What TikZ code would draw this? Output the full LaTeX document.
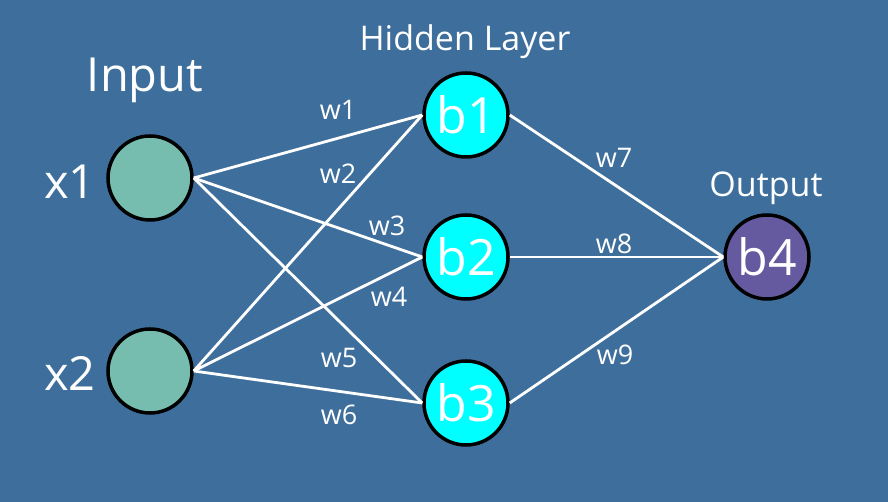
\documentclass[tikz,border=0pt]{standalone}
\usepackage{fontspec}
\setmainfont{Open Sans}
\definecolor{bg}{RGB}{62,111,156}
\definecolor{infill}{RGB}{118,189,176}
\definecolor{hidfill}{RGB}{0,255,255}
\definecolor{outfill}{RGB}{101,89,160}
\begin{document}
\begin{tikzpicture}[x=1pt,y=-1pt,
  neuron/.style={circle,draw=black,line width=3.5pt,minimum size=84pt,inner sep=0pt,font=\fontsize{50}{50}\selectfont,text=white},
  inp/.style={neuron,fill=infill},
  hid/.style={neuron,fill=hidfill},
  outn/.style={neuron,fill=outfill},
  conn/.style={draw=white,line width=2.8pt},
  wlab/.style={text=white,font=\fontsize{27}{27}\selectfont,inner sep=0pt},
  ttl/.style={text=white,inner sep=0pt}]
\fill[bg] (0,0) rectangle (888,502);
\useasboundingbox (0,0) rectangle (888,502);
\node[inp] (x1) at (150,178) {};
\node[inp] (x2) at (150,371) {};
\node[hid] (b1) at (466,115) {b1};
\node[hid] (b2) at (466,257) {b2};
\node[hid] (b3) at (466,403) {b3};
\node[outn] (b4) at (767,257) {b4};
\node[ttl,font=\fontsize{47}{47}\selectfont] (tin) at (145,80) {Input};
\node[ttl,font=\fontsize{47}{47}\selectfont] (lx1) at (70,182) {x1};
\node[ttl,font=\fontsize{47}{47}\selectfont] (lx2) at (70,373) {x2};
\node[ttl,font=\fontsize{34}{34}\selectfont] (thid) at (465,42) {Hidden Layer};
\node[ttl,font=\fontsize{34}{34}\selectfont] (tout) at (766,188) {Output};
\draw[conn] (x1.east) -- (b1.west);
\draw[conn] (x1.east) -- (b2.west);
\draw[conn] (x1.east) -- (b3.west);
\draw[conn] (x2.east) -- (b1.west);
\draw[conn] (x2.east) -- (b2.west);
\draw[conn] (x2.east) -- (b3.west);
\draw[conn] (b1.east) -- (b4.west);
\draw[conn] (b2.east) -- (b4.west);
\draw[conn] (b3.east) -- (b4.west);
\node[wlab] (w1) at (338,110) {w1};
\node[wlab] (w2) at (338,174) {w2};
\node[wlab] (w3) at (387,226) {w3};
\node[wlab] (w4) at (389,297) {w4};
\node[wlab] (w5) at (339,358) {w5};
\node[wlab] (w6) at (339,415) {w6};
\node[wlab] (w7) at (614,158) {w7};
\node[wlab] (w8) at (614,244) {w8};
\node[wlab] (w9) at (615,355) {w9};
\end{tikzpicture}
\end{document}
